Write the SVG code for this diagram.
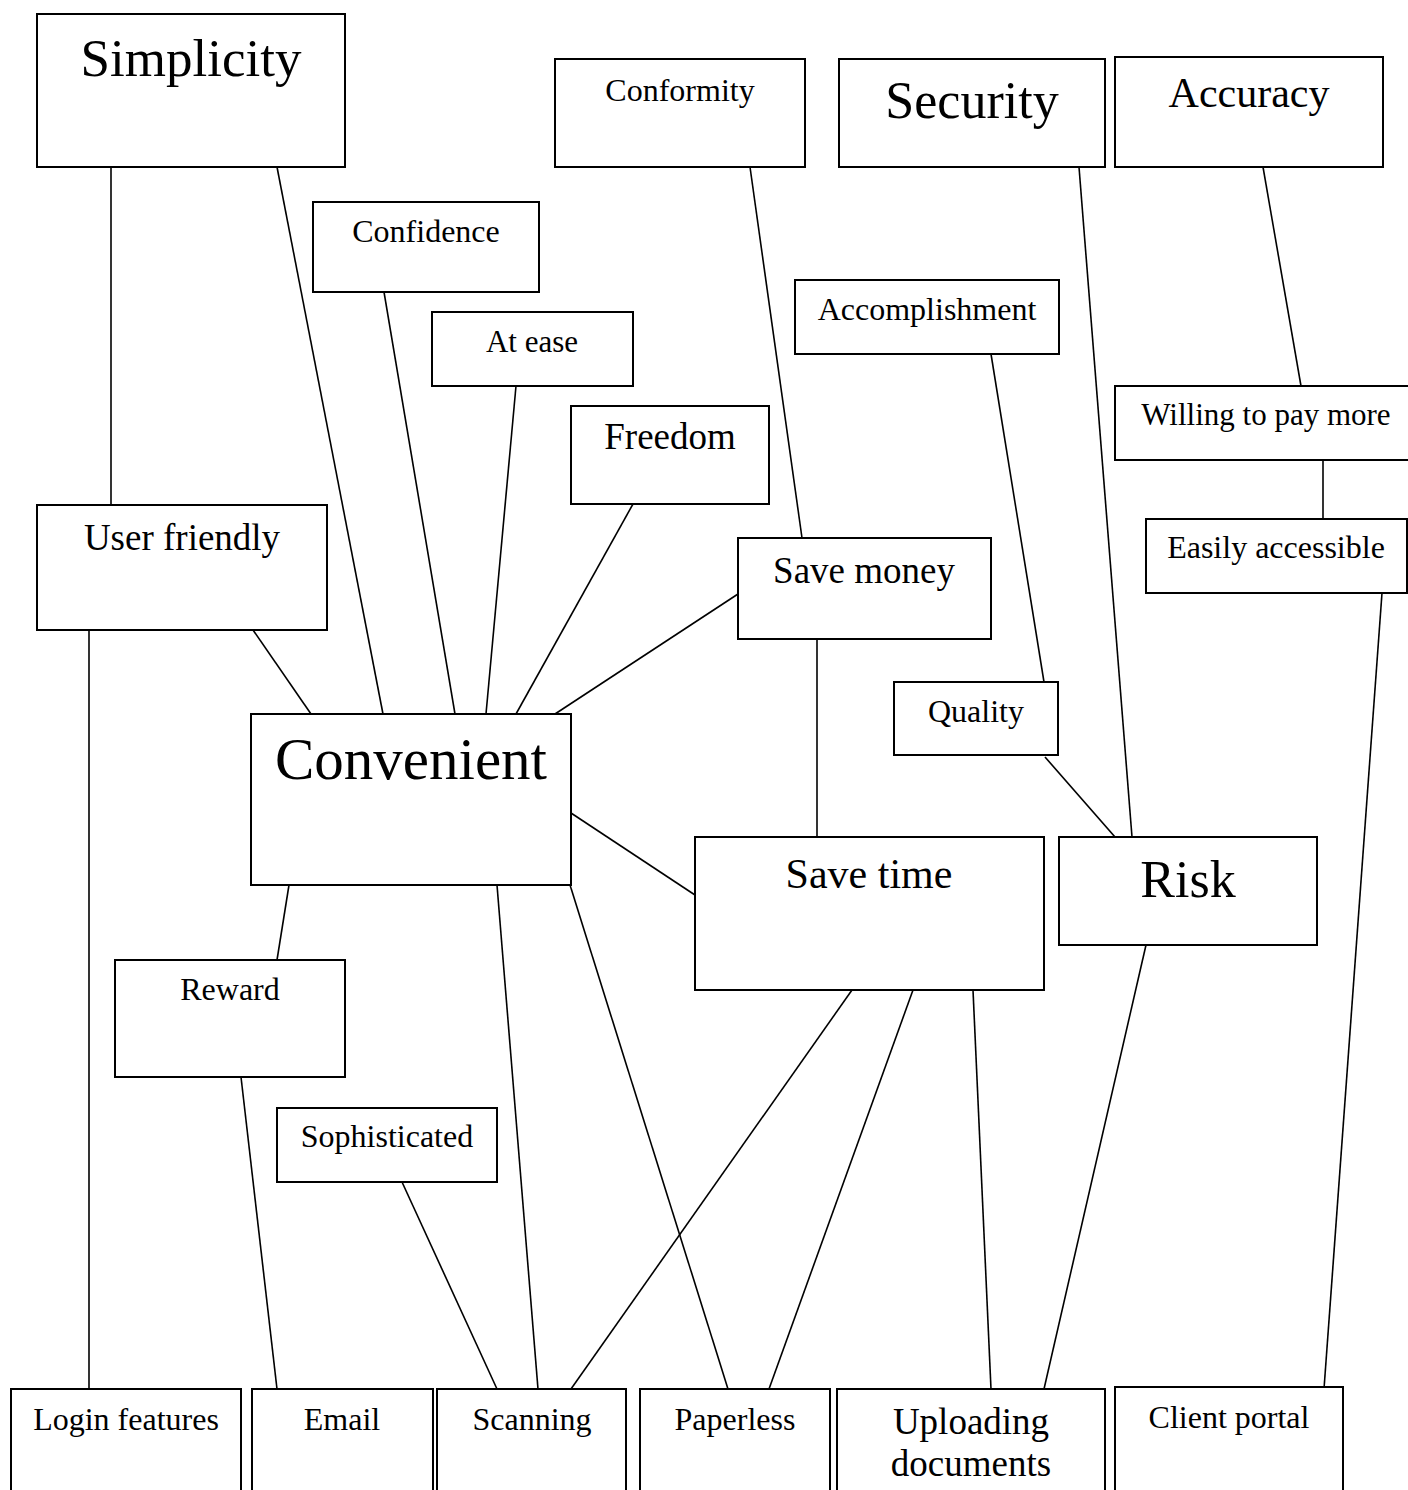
<svg xmlns="http://www.w3.org/2000/svg" width="1408" height="1490" viewBox="0 0 1408 1490">
<style>
.box{fill:#fff;stroke:#000;stroke-width:2}
.lbl{font-family:"Liberation Serif","Times New Roman",serif;fill:#000;text-anchor:middle}
#connectors line{stroke:#000;stroke-width:1.6}
</style>
<rect x="0" y="0" width="1408" height="1490" fill="#fff"/>
<g id="connectors">
<line x1="111" y1="167" x2="111" y2="505"/>
<line x1="277" y1="167" x2="383" y2="714"/>
<line x1="384" y1="292" x2="455" y2="714"/>
<line x1="516" y1="386" x2="486" y2="714"/>
<line x1="633" y1="504" x2="516" y2="714"/>
<line x1="738" y1="594" x2="555" y2="714"/>
<line x1="253" y1="630" x2="311" y2="714"/>
<line x1="750" y1="167" x2="802" y2="538"/>
<line x1="1079" y1="167" x2="1132" y2="837"/>
<line x1="1263" y1="167" x2="1301" y2="386"/>
<line x1="1323" y1="460" x2="1323" y2="519"/>
<line x1="1382" y1="593" x2="1324" y2="1389"/>
<line x1="991" y1="354" x2="1044" y2="682"/>
<line x1="1045" y1="757" x2="1115" y2="837"/>
<line x1="817" y1="639" x2="817" y2="837"/>
<line x1="571" y1="813" x2="695" y2="895"/>
<line x1="289" y1="885" x2="277" y2="960"/>
<line x1="497" y1="885" x2="538" y2="1389"/>
<line x1="570" y1="885" x2="728" y2="1389"/>
<line x1="852" y1="990" x2="571" y2="1389"/>
<line x1="913" y1="990" x2="769" y2="1389"/>
<line x1="973" y1="990" x2="991" y2="1389"/>
<line x1="1146" y1="945" x2="1044" y2="1389"/>
<line x1="241" y1="1077" x2="277" y2="1389"/>
<line x1="402" y1="1182" x2="497" y2="1389"/>
<line x1="89" y1="630" x2="89" y2="1389"/>
</g>
<g id="simplicity"><rect class="box" x="37" y="14" width="308" height="153"/><text class="lbl" x="191" y="76" font-size="53">Simplicity</text></g>
<g id="conformity"><rect class="box" x="555" y="59" width="250" height="108"/><text class="lbl" x="680" y="101" font-size="32">Conformity</text></g>
<g id="security"><rect class="box" x="839" y="59" width="266" height="108"/><text class="lbl" x="972" y="118" font-size="52">Security</text></g>
<g id="accuracy"><rect class="box" x="1115" y="57" width="268" height="110"/><text class="lbl" x="1249" y="107" font-size="42">Accuracy</text></g>
<g id="confidence"><rect class="box" x="313" y="202" width="226" height="90"/><text class="lbl" x="426" y="242" font-size="32">Confidence</text></g>
<g id="at-ease"><rect class="box" x="432" y="312" width="201" height="74"/><text class="lbl" x="532" y="352" font-size="31">At ease</text></g>
<g id="freedom"><rect class="box" x="571" y="406" width="198" height="98"/><text class="lbl" x="670" y="449" font-size="37">Freedom</text></g>
<g id="accomplishment"><rect class="box" x="795" y="280" width="264" height="74"/><text class="lbl" x="927" y="320" font-size="32">Accomplishment</text></g>
<g id="willing"><rect class="box" x="1115" y="386" width="300" height="74"/><text class="lbl" x="1266" y="425" font-size="31">Willing to pay more</text></g>
<g id="easily"><rect class="box" x="1146" y="519" width="261" height="74"/><text class="lbl" x="1276" y="558" font-size="32">Easily accessible</text></g>
<g id="user-friendly"><rect class="box" x="37" y="505" width="290" height="125"/><text class="lbl" x="182" y="550" font-size="37">User friendly</text></g>
<g id="save-money"><rect class="box" x="738" y="538" width="253" height="101"/><text class="lbl" x="864" y="583" font-size="37">Save money</text></g>
<g id="quality"><rect class="box" x="894" y="682" width="164" height="73"/><text class="lbl" x="976" y="722" font-size="32">Quality</text></g>
<g id="convenient"><rect class="box" x="251" y="714" width="320" height="171"/><text class="lbl" x="411" y="779" font-size="59">Convenient</text></g>
<g id="save-time"><rect class="box" x="695" y="837" width="349" height="153"/><text class="lbl" x="869" y="888" font-size="42">Save time</text></g>
<g id="risk"><rect class="box" x="1059" y="837" width="258" height="108"/><text class="lbl" x="1188" y="897" font-size="52">Risk</text></g>
<g id="reward"><rect class="box" x="115" y="960" width="230" height="117"/><text class="lbl" x="230" y="1000" font-size="32">Reward</text></g>
<g id="sophisticated"><rect class="box" x="277" y="1108" width="220" height="74"/><text class="lbl" x="387" y="1147" font-size="32">Sophisticated</text></g>
<g id="login"><rect class="box" x="11" y="1389" width="230" height="111"/><text class="lbl" x="126" y="1430" font-size="32">Login features</text></g>
<g id="email"><rect class="box" x="252" y="1389" width="181" height="111"/><text class="lbl" x="342" y="1430" font-size="32">Email</text></g>
<g id="scanning"><rect class="box" x="437" y="1389" width="189" height="111"/><text class="lbl" x="532" y="1430" font-size="32">Scanning</text></g>
<g id="paperless"><rect class="box" x="640" y="1389" width="190" height="111"/><text class="lbl" x="735" y="1430" font-size="32">Paperless</text></g>
<g id="uploading"><rect class="box" x="837" y="1389" width="268" height="111"/><text class="lbl" x="971" y="1434" font-size="37">Uploading</text><text class="lbl" x="971" y="1476" font-size="37">documents</text></g>
<g id="client-portal"><rect class="box" x="1115" y="1387" width="228" height="113"/><text class="lbl" x="1229" y="1428" font-size="32">Client portal</text></g>
</svg>
